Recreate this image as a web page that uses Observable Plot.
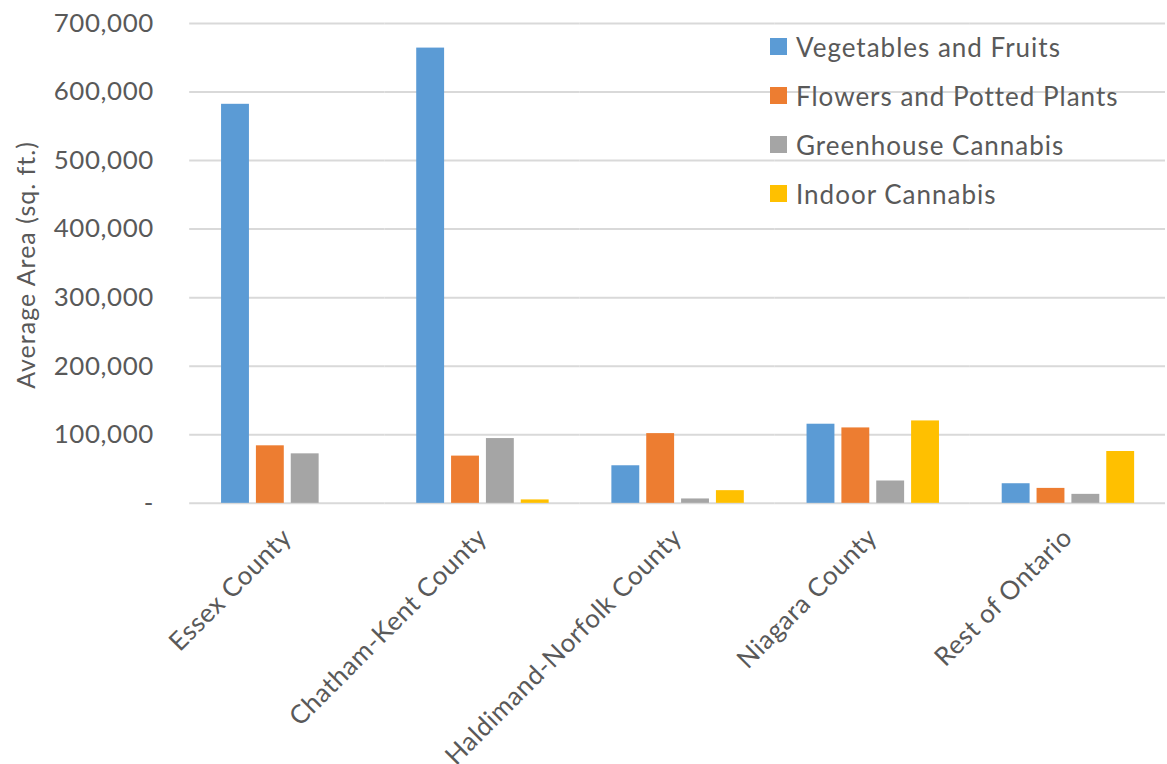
<!DOCTYPE html>
<html>
<head>
<meta charset="utf-8">
<script src="https://cdn.jsdelivr.net/npm/d3@7"></script>
<script src="https://cdn.jsdelivr.net/npm/@observablehq/plot@0.6"></script>
<style>
  html, body { margin: 0; padding: 0; background: #fff; overflow: hidden; }
  #wrap { position: relative; width: 1167px; height: 764px; }
  #ylabel { position: absolute; left: 25px; top: 265px; transform: translate(-50%, -50%) rotate(-90deg);
    font-family: Lato, sans-serif; font-size: 25px; letter-spacing: 1px; color: #595959; white-space: nowrap; }
  #legend { position: absolute; left: 770px; top: 22px; font-family: Lato, sans-serif; font-size: 26px; letter-spacing: 1px; color: #595959; }
  .row { display: flex; align-items: center; height: 49px; }
  .sw { width: 17px; height: 17px; margin-right: 9px; }
</style>
</head>
<body>
<div id="wrap">
  <div id="chart"></div>
  <div id="ylabel">Average Area (sq. ft.)</div>
  <div id="legend"></div>
</div>
<script>
const categories = ["Essex County", "Chatham-Kent County", "Haldimand-Norfolk County", "Niagara County", "Rest of Ontario"];
const seriesNames = ["Vegetables and Fruits", "Flowers and Potted Plants", "Greenhouse Cannabis", "Indoor Cannabis"];
const vegetablesFruits = [582000, 664000, 54800, 115400, 28600];
const flowersPotted = [83900, 68900, 101700, 110000, 21800];
const greenhouseCannabis = [72200, 94500, 6400, 32600, 13100];
const indoorCannabis = [0, 5000, 18500, 120200, 75600];
const seriesColors = ["#5B9BD5", "#ED7D31", "#A5A5A5", "#FFC000"];
const yTicks = [0, 100000, 200000, 300000, 400000, 500000, 600000, 700000];

const seriesValues = [vegetablesFruits, flowersPotted, greenhouseCannabis, indoorCannabis];
const data = [];
categories.forEach((c, i) => {
  seriesNames.forEach((s, j) => data.push({category: c, series: s, value: seriesValues[j][i]}));
});

const chart = Plot.plot({
  width: 1172,
  height: 764,
  marginTop: 23,
  marginBottom: 259,
  marginLeft: 188,
  marginRight: 0,
  style: {fontFamily: "Lato, sans-serif", fontSize: "26px", letterSpacing: "0.6px", color: "#595959", background: "#fff", overflow: "visible"},
  fx: {domain: categories, paddingInner: 0, paddingOuter: 0, label: null},
  x: {domain: seriesNames, paddingInner: 0.2, paddingOuter: 0.87, axis: null},
  y: {domain: [0, 700000], axis: null},
  color: {domain: seriesNames, range: seriesColors},
  marks: [
    Plot.gridY(yTicks, {stroke: "#d9d9d9", strokeOpacity: 1, strokeWidth: 2}),
    Plot.barY(data, {fx: "category", x: "series", y: "value", fill: "series"}),
    Plot.axisY(yTicks, {tickSize: 0, tickPadding: 36, label: null, fill: "#595959",
      tickFormat: d => d === 0 ? "-" : d3.format(",")(d)}),
    Plot.axisFx({anchor: "bottom", tickRotate: -45, tickSize: 0, tickPadding: 30, label: null, fill: "#595959"})
  ]
});
document.getElementById("chart").appendChild(chart);

const legend = document.getElementById("legend");
seriesNames.forEach((s, i) => {
  const row = document.createElement("div");
  row.className = "row";
  const sw = document.createElement("div");
  sw.className = "sw";
  sw.style.background = seriesColors[i];
  const t = document.createElement("span");
  t.textContent = s;
  row.appendChild(sw);
  row.appendChild(t);
  legend.appendChild(row);
});
</script>
</body>
</html>
